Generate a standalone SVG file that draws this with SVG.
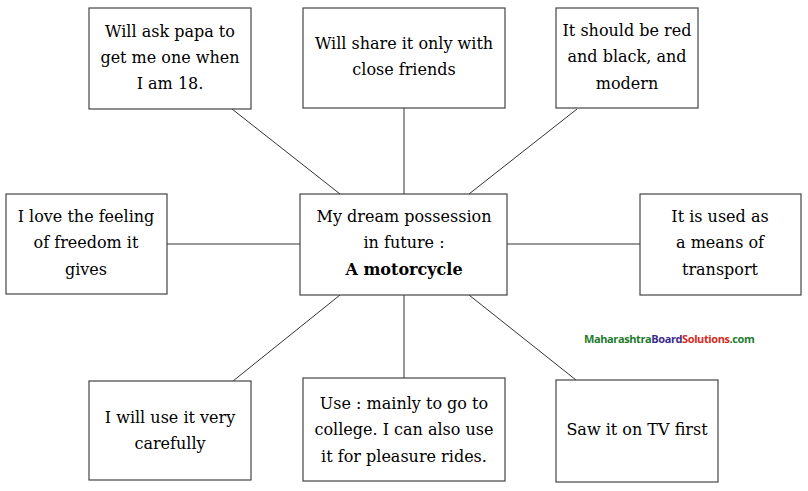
<svg xmlns="http://www.w3.org/2000/svg" width="808" height="491" viewBox="0 0 808 491">
<style>
.box{fill:#fff;stroke:#444;stroke-width:1.2}
.t{font-family:"DejaVu Serif","Liberation Serif",serif;font-size:16px;fill:#000;text-anchor:middle}
.b{font-weight:bold}
.c line{stroke:#333;stroke-width:1}
.wm{font-family:"Open Sans","DejaVu Sans",sans-serif;font-size:11px;font-weight:bold;letter-spacing:-0.4px}
</style>
<rect width="808" height="491" fill="#fff"/>
<g class="c" id="connectors">
<line x1="232" y1="109" x2="340" y2="194"/>
<line x1="404" y1="108" x2="404" y2="194"/>
<line x1="577" y1="109" x2="469" y2="194"/>
<line x1="167" y1="244" x2="300" y2="244"/>
<line x1="507" y1="244" x2="640" y2="244"/>
<line x1="340" y1="295" x2="233" y2="381"/>
<line x1="404" y1="295" x2="404" y2="378"/>
<line x1="469" y1="295" x2="576" y2="380"/>
</g>
<g id="n1"><rect class="box" x="89" y="8" width="162" height="101"/>
<text class="t" x="170" y="37">Will ask papa to</text><text class="t" x="170" y="63">get me one when</text><text class="t" x="170" y="89">I am 18.</text></g>
<g id="n2"><rect class="box" x="303" y="8" width="202" height="100"/>
<text class="t" x="404" y="49">Will share it only with</text><text class="t" x="404" y="75">close friends</text></g>
<g id="n3"><rect class="box" x="556" y="8" width="142" height="100"/>
<text class="t" x="627" y="36">It should be red</text><text class="t" x="627" y="62">and black, and</text><text class="t" x="627" y="89">modern</text></g>
<g id="n4"><rect class="box" x="6" y="194" width="161" height="100"/>
<text class="t" x="86" y="222">I love the feeling</text><text class="t" x="86" y="248">of freedom it</text><text class="t" x="86" y="275">gives</text></g>
<g id="center"><rect class="box" x="300" y="194" width="207" height="101"/>
<text class="t" x="404" y="222">My dream possession</text><text class="t" x="404" y="248">in future :</text><text class="t b" x="404" y="275">A motorcycle</text></g>
<g id="n5"><rect class="box" x="640" y="194" width="161" height="101"/>
<text class="t" x="720" y="222">It is used as</text><text class="t" x="720" y="248">a means of</text><text class="t" x="720" y="275">transport</text></g>
<g id="n6"><rect class="box" x="89" y="381" width="162" height="99"/>
<text class="t" x="170" y="423">I will use it very</text><text class="t" x="170" y="449">carefully</text></g>
<g id="n7"><rect class="box" x="303" y="378" width="202" height="103"/>
<text class="t" x="404" y="409">Use : mainly to go to</text><text class="t" x="404" y="435">college. I can also use</text><text class="t" x="404" y="462">it for pleasure rides.</text></g>
<g id="n8"><rect class="box" x="556" y="380" width="162" height="102"/>
<text class="t" x="637" y="435">Saw it on TV first</text></g>
<text class="wm" x="584" y="343"><tspan fill="#1e7a2e">Maharashtra</tspan><tspan fill="#3a2a8c">Board</tspan><tspan fill="#d42a1e">Solutions</tspan><tspan fill="#1e7a2e">.com</tspan></text>
</svg>
